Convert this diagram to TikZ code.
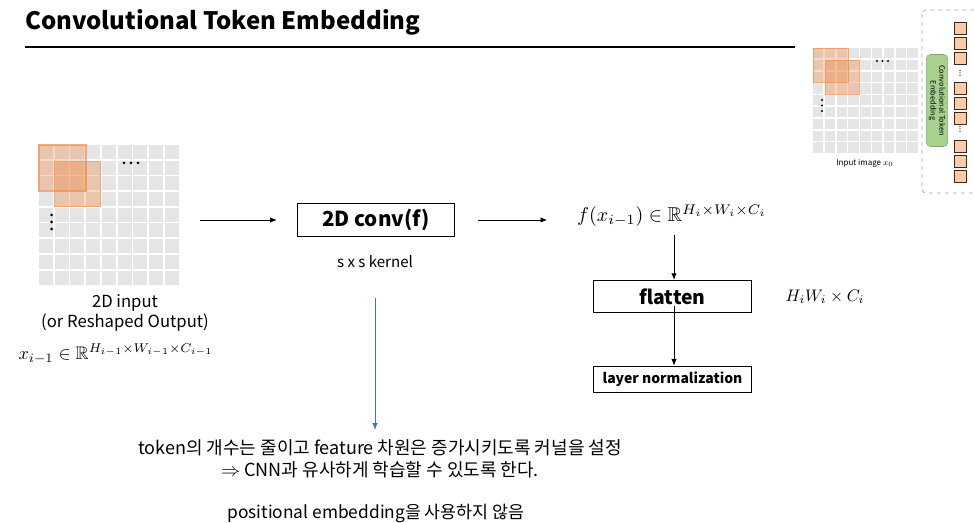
\documentclass[tikz,border=0pt]{standalone}
\usepackage{amsmath}
\usepackage{amssymb}
\usepackage{fontspec}
\setmainfont{Noto Sans CJK KR}
\usetikzlibrary{arrows.meta,positioning,calc}

\definecolor{kernorange}{RGB}{237,125,49}
\definecolor{tokfill}{RGB}{248,203,173}
\definecolor{embgreen}{RGB}{169,209,142}
\definecolor{arrowblue}{RGB}{68,114,196}

\begin{document}
\begin{tikzpicture}[
    x=0.75pt, y=-0.75pt,
    box/.style={draw, rectangle, line width=0.8pt, font=\bfseries},
    edge/.style={-{Latex[length=5pt,width=4pt]}, line width=0.6pt},
    bedge/.style={-{Latex[length=5pt,width=4pt]}, line width=0.5pt, draw=arrowblue},
    cell/.style={fill=black!10},
    kern/.style={draw=kernorange!80, fill=kernorange, fill opacity=0.3, draw opacity=0.8, line width=0.8pt},
    note/.style={font=\fontsize{13.5}{16.5}\selectfont, align=center},
    title/.style={font=\fontsize{18}{20}\selectfont\bfseries},
]
\useasboundingbox (0,0) rectangle (974,523);

% Title
\node[title, anchor=base west, inner sep=0pt] (title) at (25,30) {Convolutional Token Embedding};
\draw[line width=1.5pt] (25,47) -- (795,47);

% 2D input grid
\foreach \i in {0,...,8}
  \foreach \j in {0,...,8}
    \fill[cell] (39+\i*15.7,145+\j*15.7) rectangle ++(14,14);
\draw[kern] (39,145) rectangle (86,191);
\draw[kern] (54.7,161.7) rectangle (100.7,206.7);
\foreach \k in {0,1,2} {
  \fill (124+\k*7,163) circle (1.5);
  \fill (51.7,215+\k*7) circle (1.5);
}
\coordinate (gridout) at (200,220);

\node[note, font=\fontsize{12.5}{15}\selectfont] (inlabel) at (125,313) {2D input\\(or Reshaped Output)};
\node (inshape) at (116,354) {\scalebox{1.36}{$x_{i-1}\in\mathbb{R}^{H_{i-1}\times W_{i-1}\times C_{i-1}}$}};

% Convolution
\node[box, minimum width=118pt, minimum height=25pt, font=\fontsize{15.5}{17}\selectfont\bfseries] (conv) at (376,220) {2D conv(f)};
\node[font=\fontsize{11.3}{13}\selectfont] (kernel) at (375,262) {s x s kernel};
\node (fout) at (672,216) {\scalebox{1.5}{$f(x_{i-1})\in\mathbb{R}^{H_i\times W_i\times C_i}$}};

\draw[edge] (gridout) -- ([xshift=-15pt]conv.west);
\draw[edge] ([xshift=17pt]conv.east) -- ([xshift=-19pt]fout.west |- conv.east);

% Flatten + norm
\node[box, minimum width=118pt, minimum height=24pt, font=\fontsize{14.5}{16}\selectfont\bfseries] (flatten) at (672.5,296.5) {flatten};
\node (fshape) at (825,297) {\scalebox{1.25}{$H_iW_i\times C_i$}};
\node[box, minimum width=118pt, minimum height=20pt, font=\fontsize{10.5}{13}\selectfont\bfseries] (norm) at (672.5,379.5) {layer normalization};

\draw[edge] (674,235) -- (flatten.north -| 674,0);
\draw[edge] (flatten.south -| 674,0) ++(0,-7) coordinate (fl2) (fl2) -- (norm.north -| 674,0);

% Notes
\node[note] (note1) at (380,459) {token의 개수는 줄이고 feature 차원은 증가시키도록 커널을 설정\\$\Rightarrow$ CNN과 유사하게 학습할 수 있도록 한다.};
\node[note, font=\fontsize{13}{16}\selectfont] (note2) at (376,513) {positional embedding을 사용하지 않음};
\draw[bedge] ([yshift=-19pt]kernel.south) -- ([yshift=4pt]kernel.south |- note1.north);

% Inset: reference figure
\foreach \i in {0,...,8}
  \foreach \j in {0,...,8}
    \fill[cell] (813+\i*11.8,48+\j*11.8) rectangle ++(10.3,10.3);
\draw[kern, line width=0.6pt] (813,48) rectangle (848,82);
\draw[kern, line width=0.6pt] (825,60) rectangle (859,94);
\foreach \k in {0,1,2} {
  \fill (877+\k*5.5,61) circle (1.1);
  \fill (822,100+\k*5.5) circle (1.1);
}
\node[font=\fontsize{6}{7}\selectfont] (inimg) at (865,163) {Input image $x_0$};
\draw[black!35, dashed, rounded corners=3pt, line width=0.5pt] (922,10) rectangle (990,193);
\node[draw=embgreen!80!black, fill=embgreen, rounded corners=3pt, minimum width=16pt, minimum height=69pt, inner sep=0pt] (emb) at (937,100.5) {};
\node[rotate=-90, font=\fontsize{5.5}{6.5}\selectfont, align=center] (embtext) at (emb.center) {Convolutional Token\\Embedding};
\foreach \y in {22,37,52,82,97,112,140,155,170}
  \draw[fill=tokfill, draw=black!70!kernorange, line width=0.4pt] (954,\y) rectangle ++(12,12);
\foreach \y in {73,129}
  \foreach \k in {-1,0,1}
    \fill (960,\y+\k*2.5) circle (0.6);

\end{tikzpicture}
\end{document}
